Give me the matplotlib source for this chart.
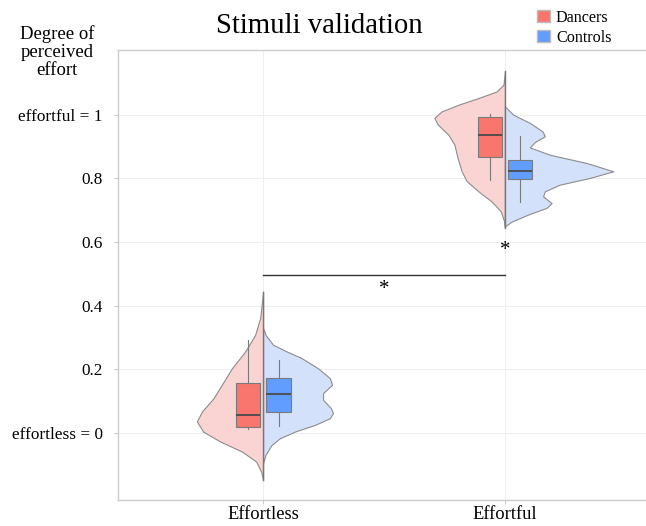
import numpy as np
import matplotlib.pyplot as plt
from matplotlib.patches import Patch

plt.rcParams['font.family'] = ['Liberation Serif', 'DejaVu Serif']

# categories and tick labels
conditions = ['Effortless', 'Effortful']
ytick_vals = [0, 0.2, 0.4, 0.6, 0.8, 1]
ytick_labels = ['effortless = 0', '0.2', '0.4', '0.6', '0.8', 'effortful = 1']

# half-violin outlines: rating level and half width (x units)
dancers_effortless_y = [-0.148, -0.122, -0.09, -0.059, -0.027, 0.004, 0.036, 0.067,
                        0.109, 0.151, 0.203, 0.256, 0.308, 0.361, 0.444]
dancers_effortless_w = [0, 0.008, 0.029, 0.087, 0.178, 0.248, 0.274, 0.253,
                        0.205, 0.171, 0.129, 0.074, 0.033, 0.012, 0]
controls_effortless_y = [-0.095, -0.069, -0.038, -0.017, 0.004, 0.025, 0.046, 0.062, 0.078,
                         0.104, 0.125, 0.151, 0.172, 0.203, 0.235, 0.256, 0.277, 0.308, 0.329]
controls_effortless_w = [0, 0.010, 0.035, 0.069, 0.131, 0.214, 0.276, 0.289, 0.28,
                         0.248, 0.248, 0.285, 0.276, 0.227, 0.159, 0.097, 0.041, 0.010, 0]
dancers_effortful_y = [0.644, 0.664, 0.696, 0.727, 0.759, 0.791, 0.822, 0.864, 0.906,
                       0.937, 0.969, 0.990, 1.010, 1.031, 1.052, 1.073, 1.094, 1.136]
dancers_effortful_w = [0, 0.003, 0.017, 0.055, 0.110, 0.158, 0.179, 0.196, 0.209,
                       0.234, 0.278, 0.292, 0.262, 0.193, 0.110, 0.034, 0.006, 0]
controls_effortful_y = [0.649, 0.664, 0.686, 0.707, 0.722, 0.743, 0.759, 0.780, 0.801, 0.822,
                        0.848, 0.874, 0.897, 0.914, 0.932, 0.947, 0.974, 1.0, 1.026]
controls_effortful_w = [0, 0.028, 0.096, 0.172, 0.193, 0.158, 0.165, 0.227, 0.351, 0.448,
                        0.338, 0.186, 0.103, 0.124, 0.165, 0.156, 0.103, 0.034, 0]

# box summaries: q1, median, q3, lower whisker, upper whisker
dancers_box = [
    dict(q1=0.020, med=0.057, q3=0.156, whislo=0.013, whishi=0.292),
    dict(q1=0.866, med=0.937, q3=0.992, whislo=0.794, whishi=1.002),
]
controls_box = [
    dict(q1=0.064, med=0.122, q3=0.172, whislo=0.022, whishi=0.230),
    dict(q1=0.797, med=0.824, q3=0.856, whislo=0.724, whishi=0.932),
]

# significance markers
bracket_y = 0.497
star_between = (0.5, 0.45)
star_effortful = (1.0, 0.573)

pink = '#FAD3D3'
lightblue = '#D4E1FA'
red = '#F8766D'
blue = '#619CFF'
edge = '#8C8C8C'

fig = plt.figure(figsize=(6.46, 5.26), dpi=100)
ax = fig.add_axes([0.1827, 0.0494, 0.8235, 0.8561])

halves = [
    (0, dancers_effortless_y, dancers_effortless_w, -1, pink),
    (0, controls_effortless_y, controls_effortless_w, 1, lightblue),
    (1, dancers_effortful_y, dancers_effortful_w, -1, pink),
    (1, controls_effortful_y, controls_effortful_w, 1, lightblue),
]
for pos, ys, ws, side, col in halves:
    ys = np.array(ys)
    ws = np.array(ws)
    ax.fill_betweenx(ys, pos, pos + side * ws, facecolor=col, edgecolor=edge,
                     linewidth=0.8, zorder=2)

# centre line of each split violin
for pos, lo, hi in [(0, dancers_effortless_y[0], dancers_effortless_y[-1]),
                    (1, dancers_effortful_y[0], dancers_effortful_y[-1])]:
    ax.plot([pos, pos], [lo, hi], color='#777777', lw=1.0, zorder=3)

box_kw = dict(widths=0.1, patch_artist=True, showfliers=False, showcaps=False,
              whiskerprops=dict(color='#7a7a7a', lw=0.8),
              medianprops=dict(color='#4a4a4a', lw=1.3), manage_ticks=False,
              zorder=4)
b1 = ax.bxp(dancers_box, positions=[-0.062, 0.938], **box_kw)
b2 = ax.bxp(controls_box, positions=[0.064, 1.064], **box_kw)
for bp, col in [(b1, red), (b2, blue)]:
    for box in bp['boxes']:
        box.set_facecolor(col)
        box.set_edgecolor('#7a7a7a')
        box.set_linewidth(0.8)

ax.plot([0, 1], [bracket_y, bracket_y], color='#333333', lw=1.0, zorder=3)
ax.text(*star_between, '*', ha='center', va='center', fontsize=15)
ax.text(*star_effortful, '*', ha='center', va='center', fontsize=15)

ax.set_xlim(-0.6, 1.6)
ax.set_ylim(-0.211, 1.204)
ax.set_xticks([0, 1])
ax.set_xticklabels(conditions, fontsize=13.3)
ax.set_yticks(ytick_vals)
ax.set_yticklabels(ytick_labels, fontsize=12.4)
ax.tick_params(axis='both', length=3, color='#cccccc', labelcolor='black')
ax.tick_params(axis='y', pad=8)
ax.tick_params(axis='x', pad=1)
ax.grid(True, color='#eeeeee', lw=0.8, zorder=0)
ax.set_axisbelow(True)
for s in ['left', 'bottom', 'top']:
    ax.spines[s].set_color('#cccccc')
    ax.spines[s].set_linewidth(1.0)
ax.spines['right'].set_visible(False)

fig.text(0.494, 1 - 33 / 526, 'Stimuli validation', ha='center', va='baseline',
         fontsize=20.7)
fig.text(0.088, 1 - 52 / 526, 'Degree of\nperceived\neffort', ha='center',
         va='center', fontsize=13.5, linespacing=1.08)

handles = [Patch(facecolor=red, edgecolor='#bbbbbb', label='Dancers'),
           Patch(facecolor=blue, edgecolor='#bbbbbb', label='Controls')]
fig.legend(handles=handles, loc='upper left', bbox_to_anchor=(0.817, 1.0),
           frameon=False, fontsize=11.6, handlelength=0.75, handleheight=0.75,
           handletextpad=0.4, labelspacing=0.25, borderaxespad=0.2)

fig.savefig('out.png', dpi=100)
